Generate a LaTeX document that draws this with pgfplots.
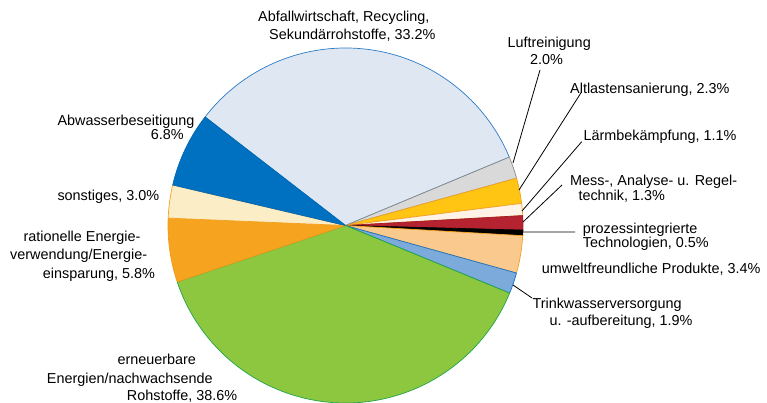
\documentclass[border=0pt]{standalone}
\usepackage{fontspec}
\setmainfont{Liberation Sans}
\usepackage{pgfplots}
\pgfplotsset{compat=1.18}
\definecolor{abfF}{HTML}{DFE7F3}\definecolor{abfE}{HTML}{2A7BC4}
\definecolor{lufF}{HTML}{D9D9D9}\definecolor{lufE}{HTML}{8A8A8A}
\definecolor{altF}{HTML}{FFC512}\definecolor{altE}{HTML}{F4A11E}
\definecolor{larF}{HTML}{FEF3E6}\definecolor{larE}{HTML}{F4A11E}
\definecolor{mesF}{HTML}{B52330}\definecolor{mesE}{HTML}{A01E2A}
\definecolor{proF}{HTML}{000000}\definecolor{proE}{HTML}{000000}
\definecolor{umwF}{HTML}{FAC98D}\definecolor{umwE}{HTML}{F4A11E}
\definecolor{triF}{HTML}{7BAADB}\definecolor{triE}{HTML}{1A70C0}
\definecolor{ernF}{HTML}{8DC63F}\definecolor{ernE}{HTML}{1FA64A}
\definecolor{ratF}{HTML}{F6A41F}\definecolor{ratE}{HTML}{F39A18}
\definecolor{sonF}{HTML}{FBEDC6}\definecolor{sonE}{HTML}{F4A11E}
\definecolor{abwF}{HTML}{0070C0}\definecolor{abwE}{HTML}{0068B5}
\begin{document}
\begin{tikzpicture}
\begin{axis}[name=ax, x=1pt, y=1pt, xmin=0, xmax=767, ymin=0, ymax=403,
  hide axis, clip=false, anchor=south west, at={(0,0)}]
\pgfplotsextra{%
  \gdef\cum{0}%
  \foreach \v/\fc/\ec in {33.2/abfF/abfE, 2.0/lufF/lufE, 2.3/altF/altE, 1.1/larF/larE,
     1.3/mesF/mesE, 0.5/proF/proE, 3.4/umwF/umwE, 1.9/triF/triE, 38.6/ernF/ernE,
     5.8/ratF/ratE, 3.0/sonF/sonE, 6.8/abwF/abwE}{%
    \pgfmathsetmacro{\nxt}{\cum+\v}%
    \pgfmathsetmacro{\sa}{142.3-\cum/99.9*360}%
    \pgfmathsetmacro{\ea}{142.3-\nxt/99.9*360}%
    \filldraw[fill=\fc, draw=\ec, line width=0.7pt, line join=round]
      (axis cs:345.5,177.5) -- ++(\sa:177.5pt) arc[start angle=\sa, end angle=\ea, radius=177.5pt] -- cycle;
    \xdef\cum{\nxt}%
  }%
  \draw[black, line width=0.8pt]
    (axis cs:540,333) -- (axis cs:513,240)
    (axis cs:581.7,311.3) -- (axis cs:519,213)
    (axis cs:581.7,261.3) -- (axis cs:522,192)
    (axis cs:562,218) -- (axis cs:523,181)
    (axis cs:523,171) -- (axis cs:575,171)
    (axis cs:513,118) -- (axis cs:532,105);
  \begin{scope}[every node/.style={anchor=base west, inner sep=0pt, font=\fontsize{14.4}{17}\selectfont}]
    \node at (axis cs:258,381.3) {Abfallwirtschaft, Recycling,};
    \node at (axis cs:269,363.7) {Sekundärrohstoffe, 33.2\%};
    \node at (axis cs:507.3,355.7) {Luftreinigung};
    \node at (axis cs:530,338) {2.0\%};
    \node at (axis cs:570,309.7) {Altlastensanierung, 2.3\%};
    \node at (axis cs:583.3,262) {Lärmbekämpfung, 1.1\%};
    \node at (axis cs:570,217) {Mess-, Analyse- u. Regel-};
    \node at (axis cs:578.3,202.5) {technik, 1.3\%};
    \node at (axis cs:582.7,169.7) {prozessintegrierte};
    \node at (axis cs:582.7,155.5) {Technologien, 0.5\%};
    \node at (axis cs:541.7,129) {umweltfreundliche Produkte, 3.4\%};
    \node at (axis cs:532.3,94) {Trinkwasserversorgung};
    \node at (axis cs:549.3,77.3) {u. -aufbereitung, 1.9\%};
    \node at (axis cs:57.3,277.3) {Abwasserbeseitigung};
    \node at (axis cs:150.7,263.5) {6.8\%};
    \node at (axis cs:57.3,202) {sonstiges, 3.0\%};
    \node at (axis cs:23.3,161.3) {rationelle Energie-};
    \node at (axis cs:10,143) {verwendung/Energie-};
    \node at (axis cs:42.7,124.7) {einsparung, 5.8\%};
    \node at (axis cs:117.3,38) {erneuerbare};
    \node at (axis cs:46.7,19.7) {Energien/nachwachsende};
    \node at (axis cs:126.7,2.3) {Rohstoffe, 38.6\%};
  \end{scope}
}
\end{axis}
\pgfresetboundingbox
\path (ax.south west) rectangle (ax.north east);
\end{tikzpicture}
\end{document}
